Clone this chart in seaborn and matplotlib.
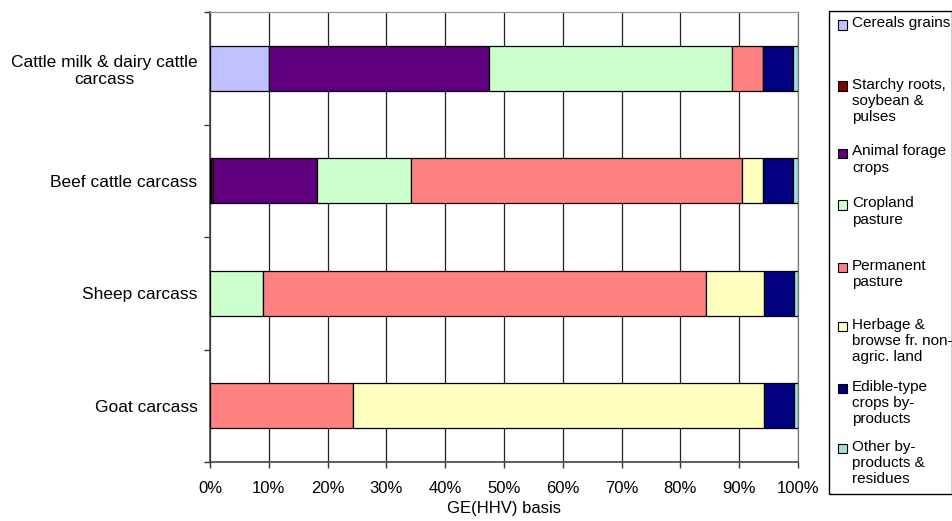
import numpy as np
import matplotlib
matplotlib.use("Agg")
import matplotlib.pyplot as plt
import seaborn as sns
from matplotlib.patches import Rectangle

# Data (shares of GE(HHV), in %)
categories = ["Cattle milk & dairy cattle\ncarcass", "Beef cattle carcass",
              "Sheep carcass", "Goat carcass"]
cereals = [10.0, 0.2, 0.0, 0.0]
starchy = [0.0, 0.3, 0.0, 0.0]
forage = [37.4, 17.7, 0.0, 0.0]
cropland = [41.4, 15.9, 9.0, 0.0]
permanent = [5.3, 56.4, 75.4, 24.4]
herbage = [0.0, 3.6, 9.9, 69.9]
edible = [5.0, 5.0, 5.0, 5.0]
other = [0.9, 0.9, 0.7, 0.7]

series_labels = ["Cereals grains", "Starchy roots,\nsoybean &\npulses",
                 "Animal forage\ncrops", "Cropland\npasture", "Permanent\npasture",
                 "Herbage &\nbrowse fr. non-\nagric. land",
                 "Edible-type\ncrops by-\nproducts", "Other by-\nproducts &\nresidues"]
colors = ["#C0C0FF", "#800000", "#600080", "#CCFFCC", "#FF8080",
          "#FFFFC0", "#000080", "#A0E0E0"]

sns.set_style("white")
plt.rcParams["font.family"] = ["Liberation Sans", "DejaVu Sans"]
plt.rcParams.update({"text.color": "black", "axes.labelcolor": "black",
                     "xtick.color": "black", "ytick.color": "black"})

W, H = 953, 521
fig = plt.figure(figsize=(W / 100, H / 100), dpi=100)


def px(x, y):
    """pixel (from top-left) -> figure fraction"""
    return x / W, 1 - y / H


# plot area 210..798 x, 12..462 y
ax = fig.add_axes([210 / W, 1 - 462 / H, 588 / W, 450 / H])

series = [cereals, starchy, forage, cropland, permanent, herbage, edible, other]
ypos = np.arange(len(categories))
left = np.zeros(len(categories))
for vals, col in zip(series, colors):
    vals = np.array(vals)
    ax.barh(ypos, vals, left=left, height=0.4, color=col,
            edgecolor="black", linewidth=0.9, zorder=3)
    left += vals

ax.set_xlim(0, 100)
ax.set_ylim(3.5, -0.5)
ax.set_xticks(np.arange(0, 101, 10))
ax.set_xticklabels([f"{v}%" for v in range(0, 101, 10)], fontsize=12)
ax.set_yticks(ypos)
ax.set_yticklabels(categories, fontsize=12.5, ha="right")
for lbl in ax.get_yticklabels():
    lbl.set_multialignment("center")
ax.tick_params(axis="y", length=0, pad=9)
ax.set_yticks(np.arange(-0.5, 4, 1), minor=True)
ax.tick_params(axis="y", which="minor", length=4, width=1, color="#333333", left=True)
ax.tick_params(axis="x", length=4, width=1, color="#333333", pad=10, bottom=True)
ax.grid(axis="x", color="#222222", linewidth=0.9, zorder=0)
ax.set_axisbelow(True)
for s in ["left", "bottom"]:
    ax.spines[s].set_color("#444444")
    ax.spines[s].set_linewidth(1.2)
ax.spines["top"].set_color("#999999")
ax.spines["top"].set_linewidth(0.9)
ax.spines["right"].set_color("#777777")
ax.spines["right"].set_linewidth(0.9)
ax.set_xlabel("GE(HHV) basis", fontsize=12, labelpad=3)

# legend box, drawn by hand to copy the uneven spacing
x0, y0 = px(829, 11)
x1, y1 = px(952, 494)
fig.patches.append(Rectangle((x0, y1), x1 - x0, y0 - y1, transform=fig.transFigure,
                             fill=False, edgecolor="black", linewidth=1.0))
marker_y = [25, 86, 153, 205, 267, 326, 388, 448]
for my, lab, col in zip(marker_y, series_labels, colors):
    mx0, my0 = px(838, my + 4.5)
    fig.patches.append(Rectangle((mx0, my0), 9 / W, 9 / H, transform=fig.transFigure,
                                 facecolor=col, edgecolor="black", linewidth=0.8))
    tx, ty = px(852, my - 8.5)
    fig.text(tx, ty, lab, fontsize=11, va="top", ha="left", linespacing=1.2)

fig.savefig("out.png", dpi=100)
